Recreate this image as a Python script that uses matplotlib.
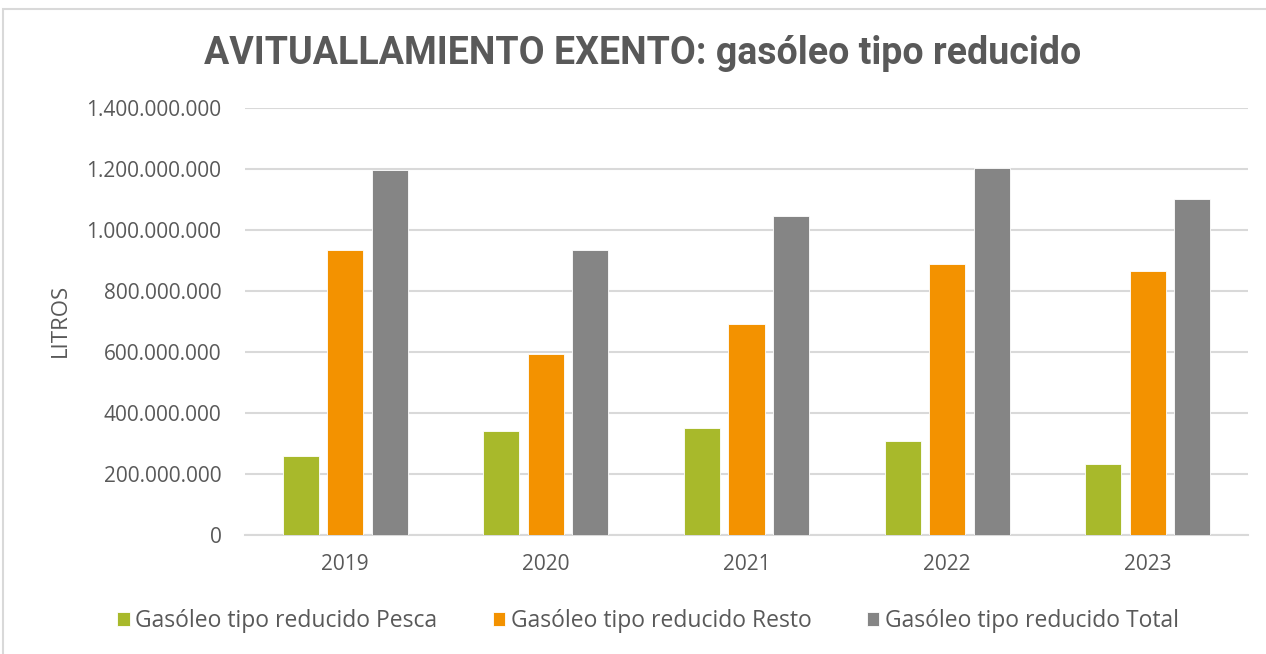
"""Avituallamiento exento: gasoleo tipo reducido, litros por año"""
import numpy as np
import matplotlib.pyplot as plt
from matplotlib.patches import Rectangle
from matplotlib.ticker import FuncFormatter

# Datos (litros)
years = ["2019", "2020", "2021", "2022", "2023"]
pesca = [260e6, 340e6, 352e6, 309e6, 234e6]
resto = [934e6, 593e6, 693e6, 890e6, 867e6]
total = [1196e6, 936e6, 1046e6, 1202e6, 1102e6]
labels = ["Gasóleo tipo reducido Pesca", "Gasóleo tipo reducido Resto", "Gasóleo tipo reducido Total"]
colors = ["#A8B92B", "#F39200", "#858585"]

plt.rcParams["font.family"] = ["Open Sans", "DejaVu Sans"]
txt = "#595959"

W, H = 1266, 654
fig = plt.figure(figsize=(W / 100, H / 100), dpi=100)
ax = fig.add_axes([245 / W, (H - 535) / H, (1248 - 245) / W, (535 - 108) / H])

x = np.arange(len(years))
w = 0.18
step = 0.222
for i, (vals, lab, col) in enumerate(zip([pesca, resto, total], labels, colors)):
    ax.bar(x + (i - 1) * step, vals, width=w, color=col, label=lab,
           edgecolor="white", linewidth=0.6, zorder=3)

ax.set_xlim(-0.5, len(years) - 0.5)
ax.set_ylim(0, 1.4e9)
ax.set_yticks(np.arange(0, 1.4e9 + 1, 2e8))
ax.yaxis.set_major_formatter(FuncFormatter(lambda v, p: f"{int(v):,}".replace(",", ".")))
ax.set_xticks(x)
ax.set_xticklabels(years)
ax.tick_params(length=0, labelsize=15, colors=txt)
ax.tick_params(axis="y", pad=17)
ax.tick_params(axis="x", pad=14)
ax.grid(axis="y", color="#D9D9D9", linewidth=1.5, zorder=0)
for s in ["top", "right", "left"]:
    ax.spines[s].set_visible(False)
ax.spines["bottom"].set_color("#D9D9D9")
ax.spines["bottom"].set_linewidth(1.5)

fig.text(60 / W, 1 - 320 / H, "LITROS", rotation=90, ha="center", va="center",
         fontsize=16, color=txt)
fig.text(643 / W, 1 - 54 / H, "AVITUALLAMIENTO EXENTO: gasóleo tipo reducido",
         ha="center", va="center", fontsize=27, fontweight="bold", color=txt,
         family=["Roboto", "DejaVu Sans"])

fig.legend(loc="center", bbox_to_anchor=(648 / W, 1 - 621 / H), ncol=3, frameon=False,
           fontsize=16.5, labelcolor=txt, handlelength=0.55, handleheight=0.55,
           handletextpad=0.25, columnspacing=2.4)

# marco del grafico
fig.patches.append(Rectangle((3 / W, -0.1), 1.1, 1 - 9 / H + 0.1, transform=fig.transFigure,
                             fill=False, edgecolor="#D9D9D9", linewidth=1.5))

fig.savefig("out.png", dpi=100)
